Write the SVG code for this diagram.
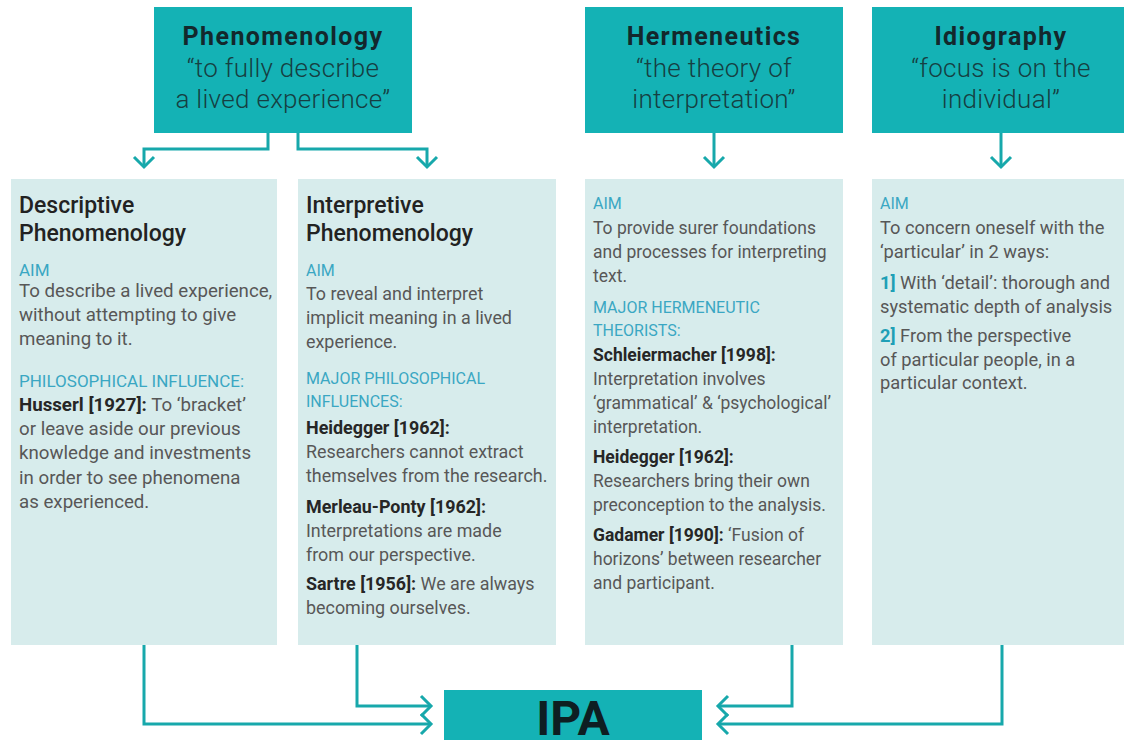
<svg xmlns="http://www.w3.org/2000/svg" width="1124" height="740" viewBox="0 0 1124 740">
<style>
.top{fill:#14b2b5}
.low{fill:#d7ecec}
.ttl{font-family:Roboto,"Liberation Sans",sans-serif;font-weight:700;font-size:25px;letter-spacing:1.4px;fill:#13282c;text-anchor:middle}
.sub{font-family:Roboto,"Liberation Sans",sans-serif;font-weight:300;font-size:26px;letter-spacing:0.3px;fill:#163f42;text-anchor:middle}
.hd{font-family:Roboto,"Liberation Sans",sans-serif;font-weight:500;font-size:23px;fill:#222}
.lb{font-family:Roboto,"Liberation Sans",sans-serif;font-weight:400;font-size:16px;fill:#3aa7c3}
.tx{font-family:Roboto,"Liberation Sans",sans-serif;font-weight:400;font-size:17.5px;fill:#575757}
#descriptive .tx{font-size:18.7px}
#descriptive .lb{font-size:17px}
#interpretive .tx{font-size:17.9px}
#idiography-detail .tx{font-size:18.3px}
.b{font-weight:700;fill:#262626}
.n{font-weight:700;fill:#1f9fb6}
.ipa{font-family:Roboto,"Liberation Sans",sans-serif;font-weight:700;font-size:48px;fill:#0e1e22;text-anchor:middle}
.con{fill:none;stroke:#17a8ab;stroke-width:3}
</style>
<defs>
<marker id="chev" markerUnits="userSpaceOnUse" markerWidth="26" markerHeight="26" viewBox="-13 -13 26 26" refX="0" refY="0" orient="auto">
<path d="M-10,-10 L0,0 L-10,10" fill="none" stroke="#17a8ab" stroke-width="3"/>
</marker>
</defs>

<g id="connectors">
<path class="con" d="M268,133 V149 H144 V167" marker-end="url(#chev)"/>
<path class="con" d="M298,133 V149 H427 V167" marker-end="url(#chev)"/>
<path class="con" d="M714,133 V167" marker-end="url(#chev)"/>
<path class="con" d="M1001,133 V167" marker-end="url(#chev)"/>
<path class="con" d="M144,645 V724 H431" marker-end="url(#chev)"/>
<path class="con" d="M357,645 V706 H431" marker-end="url(#chev)"/>
<path class="con" d="M792,645 V706 H718" marker-end="url(#chev)"/>
<path class="con" d="M1002,645 V724 H718" marker-end="url(#chev)"/>
</g>

<g id="phenomenology">
<rect class="top" x="154" y="7" width="258" height="126"/>
<text class="ttl" x="283" y="45">Phenomenology</text>
<text class="sub" x="283" y="77">“to fully describe</text>
<text class="sub" x="283" y="108">a lived experience”</text>
</g>

<g id="hermeneutics">
<rect class="top" x="585" y="7" width="258" height="126"/>
<text class="ttl" x="714" y="45">Hermeneutics</text>
<text class="sub" x="714" y="77">“the theory of</text>
<text class="sub" x="714" y="108">interpretation”</text>
</g>

<g id="idiography">
<rect class="top" x="872" y="7" width="258" height="126"/>
<text class="ttl" x="1001" y="45">Idiography</text>
<text class="sub" x="1001" y="77">“focus is on the</text>
<text class="sub" x="1001" y="108">individual”</text>
</g>

<g id="descriptive">
<rect class="low" x="11" y="179" width="266" height="466"/>
<text class="hd" x="19" y="213">Descriptive</text>
<text class="hd" x="19" y="241">Phenomenology</text>
<text class="lb" x="19" y="276">AIM</text>
<text class="tx" x="19" y="297">To describe a lived experience,</text>
<text class="tx" x="19" y="321">without attempting to give</text>
<text class="tx" x="19" y="345">meaning to it.</text>
<text class="lb" x="19" y="387">PHILOSOPHICAL INFLUENCE:</text>
<text class="tx" x="19" y="411"><tspan class="b">Husserl [1927]:</tspan> To ‘bracket’</text>
<text class="tx" x="19" y="435">or leave aside our previous</text>
<text class="tx" x="19" y="459">knowledge and investments</text>
<text class="tx" x="19" y="484">in order to see phenomena</text>
<text class="tx" x="19" y="508">as experienced.</text>
</g>

<g id="interpretive">
<rect class="low" x="298" y="179" width="258" height="466"/>
<text class="hd" x="306" y="213">Interpretive</text>
<text class="hd" x="306" y="241">Phenomenology</text>
<text class="lb" x="306" y="276">AIM</text>
<text class="tx" x="306" y="300">To reveal and interpret</text>
<text class="tx" x="306" y="324">implicit meaning in a lived</text>
<text class="tx" x="306" y="348">experience.</text>
<text class="lb" x="306" y="384">MAJOR PHILOSOPHICAL</text>
<text class="lb" x="306" y="407">INFLUENCES:</text>
<text class="tx b" x="306" y="434">Heidegger [1962]:</text>
<text class="tx" x="306" y="458">Researchers cannot extract</text>
<text class="tx" x="306" y="482">themselves from the research.</text>
<text class="tx b" x="306" y="513">Merleau-Ponty [1962]:</text>
<text class="tx" x="306" y="537">Interpretations are made</text>
<text class="tx" x="306" y="561">from our perspective.</text>
<text class="tx" x="306" y="590"><tspan class="b">Sartre [1956]:</tspan> We are always</text>
<text class="tx" x="306" y="614">becoming ourselves.</text>
</g>

<g id="hermeneutics-detail">
<rect class="low" x="585" y="179" width="258" height="466"/>
<text class="lb" x="593" y="209">AIM</text>
<text class="tx" x="593" y="234">To provide surer foundations</text>
<text class="tx" x="593" y="258">and processes for interpreting</text>
<text class="tx" x="593" y="282">text.</text>
<text class="lb" x="593" y="313">MAJOR HERMENEUTIC</text>
<text class="lb" x="593" y="336">THEORISTS:</text>
<text class="tx b" x="593" y="361">Schleiermacher [1998]:</text>
<text class="tx" x="593" y="385">Interpretation involves</text>
<text class="tx" x="593" y="409">‘grammatical’ &amp; ‘psychological’</text>
<text class="tx" x="593" y="433">interpretation.</text>
<text class="tx b" x="593" y="463">Heidegger [1962]:</text>
<text class="tx" x="593" y="487">Researchers bring their own</text>
<text class="tx" x="593" y="511">preconception to the analysis.</text>
<text class="tx" x="593" y="541"><tspan class="b">Gadamer [1990]:</tspan> ‘Fusion of</text>
<text class="tx" x="593" y="565">horizons’ between researcher</text>
<text class="tx" x="593" y="589">and participant.</text>
</g>

<g id="idiography-detail">
<rect class="low" x="872" y="179" width="258" height="466"/>
<text class="lb" x="880" y="209">AIM</text>
<text class="tx" x="880" y="234">To concern oneself with the</text>
<text class="tx" x="880" y="258">‘particular’ in 2 ways:</text>
<text class="tx" x="880" y="289"><tspan class="n">1]</tspan> With ‘detail’: thorough and</text>
<text class="tx" x="880" y="313">systematic depth of analysis</text>
<text class="tx" x="880" y="342"><tspan class="n">2]</tspan> From the perspective</text>
<text class="tx" x="880" y="366">of particular people, in a</text>
<text class="tx" x="880" y="389">particular context.</text>
</g>

<g id="ipa">
<rect class="top" x="444" y="690" width="258" height="60"/>
<text class="ipa" x="573" y="735">IPA</text>
</g>
</svg>
